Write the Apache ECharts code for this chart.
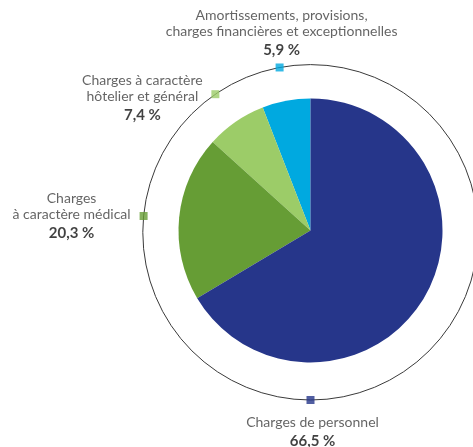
<!DOCTYPE html>
<html>
<head>
<meta charset="utf-8">
<script src="https://cdn.jsdelivr.net/npm/echarts@6/dist/echarts.min.js"></script>
<style>
  html, body { margin: 0; padding: 0; background: #fff; }
  #chart { width: 473px; height: 447px; }
</style>
</head>
<body>
<div id="chart"></div>
<script>
// slices, counter-clockwise from the top
const categories = [
    'Amortissements, provisions,\ncharges financières et exceptionnelles',
    'Charges à caractère\nhôtelier et général',
    'Charges\nà caractère médical',
    'Charges de personnel'
];
const shares = [5.9, 7.4, 20.3, 66.5];

const sliceColors = ['#00a9e0', '#9ccc68', '#669d35', '#26368a'];
// label offset from marker centre (px)
const labelOffsets = [[2, -33], [-73, 5], [-72, 1], [2, 33]];

const fmt = v => v.toFixed(1).replace('.', ',') + ' %';

// marker angle = middle of the slice; the big one sits at the bottom
let cum = 0;
const markerAngles = shares.map((v, i) => {
    const mid = cum + v / 2;
    cum += v;
    return i === shares.length - 1 ? 50 : mid;
});

const markerSize = 8;

const chart = echarts.init(document.getElementById('chart'));
chart.setOption({
    animation: false,
    polar: {
        center: [310.5, 232.3],
        radius: 167.7
    },
    angleAxis: {
        type: 'value',
        min: 0,
        max: 100,
        startAngle: 90,
        clockwise: false,
        axisLine: { show: true, lineStyle: { color: '#3a3a3a', width: 1 } },
        axisTick: { show: false },
        axisLabel: { show: false },
        splitLine: { show: false }
    },
    radiusAxis: {
        type: 'value',
        min: 0,
        max: 1,
        axisLine: { show: false },
        axisTick: { show: false },
        axisLabel: { show: false },
        splitLine: { show: false }
    },
    series: [
        {
            type: 'pie',
            center: [310.5, 230.5],
            radius: 132,
            startAngle: 90,
            clockwise: false,
            silent: true,
            label: { show: false },
            labelLine: { show: false },
            itemStyle: { borderWidth: 0 },
            data: shares.map((v, i) => ({
                name: categories[i],
                value: v,
                itemStyle: { color: sliceColors[i] }
            }))
        },
        {
            type: 'scatter',
            coordinateSystem: 'polar',
            symbol: 'rect',
            symbolSize: markerSize,
            clip: false,
            silent: true,
            z: 5,
            data: shares.map((v, i) => ({
                name: categories[i],
                value: [1, markerAngles[i]],
                itemStyle: { color: sliceColors[i] },
                label: {
                    show: true,
                    position: [markerSize / 2 + labelOffsets[i][0], markerSize / 2 + labelOffsets[i][1]],
                    align: 'center',
                    verticalAlign: 'middle',
                    formatter: () => categories[i].split('\n').map(s => '{n|' + s + '}').join('\n') +
                        '\n{v|' + fmt(v) + '}',
                    rich: {
                        n: {
                            fontFamily: 'Lato',
                            fontSize: 14,
                            lineHeight: 16,
                            color: '#3d3d3d',
                            align: 'center'
                        },
                        v: {
                            fontFamily: 'Lato',
                            fontSize: 15,
                            fontWeight: 'bold',
                            lineHeight: 22,
                            color: '#111',
                            align: 'center'
                        }
                    }
                }
            }))
        }
    ]
});
</script>
</body>
</html>
